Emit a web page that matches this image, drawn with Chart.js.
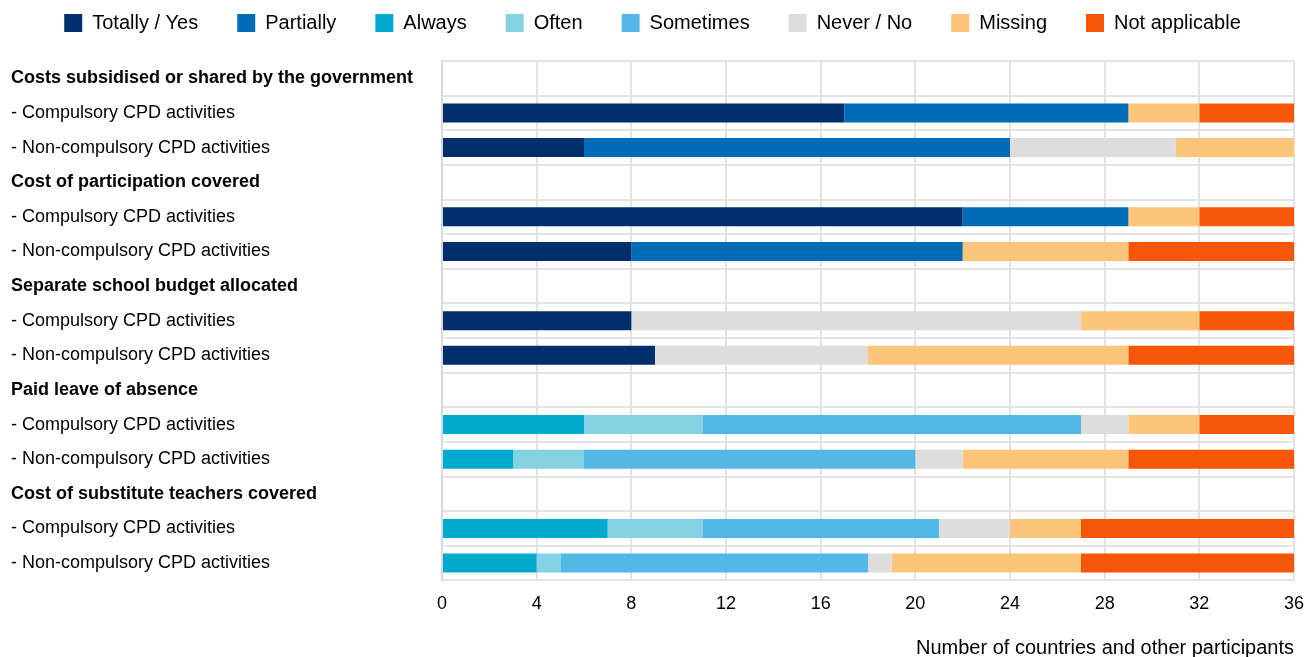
<!DOCTYPE html>
<html>
<head>
<meta charset="utf-8">
<script src="https://cdn.jsdelivr.net/npm/chart.js@4"></script>
<style>
  body { margin: 0; background: #fff; }
  #wrap { width: 1304px; height: 657px; }
</style>
</head>
<body>
<div id="wrap"><canvas id="grafico"></canvas></div>
<script>
// row labels (header rows have no bars)
const rotulos = [
  'Costs subsidised or shared by the government',
  '- Compulsory CPD activities',
  '- Non-compulsory CPD activities',
  'Cost of participation covered',
  '- Compulsory CPD activities',
  '- Non-compulsory CPD activities',
  'Separate school budget allocated',
  '- Compulsory CPD activities',
  '- Non-compulsory CPD activities',
  'Paid leave of absence',
  '- Compulsory CPD activities',
  '- Non-compulsory CPD activities',
  'Cost of substitute teachers covered',
  '- Compulsory CPD activities',
  '- Non-compulsory CPD activities'
];
const cabecalhos = [0, 3, 6, 9, 12];

// number of countries per answer (null on header rows)
const totallyYes = [null, 17, 6, null, 22, 8, null, 8, 9, null, 0, 0, null, 0, 0];
const partially  = [null, 12, 18, null, 7, 14, null, 0, 0, null, 0, 0, null, 0, 0];
const always     = [null, 0, 0, null, 0, 0, null, 0, 0, null, 6, 3, null, 7, 4];
const often      = [null, 0, 0, null, 0, 0, null, 0, 0, null, 5, 3, null, 4, 1];
const sometimes  = [null, 0, 0, null, 0, 0, null, 0, 0, null, 16, 14, null, 10, 13];
const neverNo    = [null, 0, 7, null, 0, 0, null, 19, 9, null, 2, 2, null, 3, 1];
const missing    = [null, 3, 5, null, 3, 7, null, 5, 11, null, 3, 7, null, 3, 8];
const notAppl    = [null, 4, 0, null, 4, 7, null, 4, 7, null, 4, 7, null, 9, 9];

const xTicks = [0, 4, 8, 12, 16, 20, 24, 28, 32, 36];

function serie(nome, dados, cor) {
  return {
    label: nome,
    data: dados,
    backgroundColor: cor,
    borderWidth: 0,
    categoryPercentage: 1,
    barPercentage: 0.55
  };
}

// extra space between the legend and the plot
const espacoLegenda = {
  id: 'espacoLegenda',
  beforeLayout(chart) {
    const leg = chart.legend;
    if (leg && !leg._fitPatched) {
      const fitOriginal = leg.fit;
      leg.fit = function() {
        fitOriginal.call(this);
        this.height += 18;
      };
      leg._fitPatched = true;
    }
  }
};

Chart.defaults.font.family = '"Liberation Sans", Arial, sans-serif';
Chart.defaults.color = '#000';

var ctx = document.getElementById('grafico').getContext('2d');
var grafico = new Chart(ctx, {
  type: 'bar',
  data: {
    labels: rotulos,
    datasets: [
      serie('Totally / Yes', totallyYes, '#002f6c'),
      serie('Partially', partially, '#006bb6'),
      serie('Always', always, '#00aacd'),
      serie('Often', often, '#85d2e3'),
      serie('Sometimes', sometimes, '#53b7e8'),
      serie('Never / No', neverNo, '#dddddd'),
      serie('Missing', missing, '#fdc579'),
      serie('Not applicable', notAppl, '#f55607')
    ]
  },
  plugins: [espacoLegenda],
  options: {
    indexAxis: 'y',
    responsive: true,
    maintainAspectRatio: false,
    animation: false,
    layout: { padding: { left: 11, right: 10, top: -26, bottom: -5 } },
    plugins: {
      tooltip: { enabled: false },
      legend: {
        position: 'top',
        labels: {
          boxWidth: 18,
          boxHeight: 18,
          padding: 39,
          font: { size: 20 }
        }
      }
    },
    scales: {
      x: {
        stacked: true,
        min: 0,
        max: 36,
        afterBuildTicks: function(scale) {
          scale.ticks = xTicks.map(v => ({ value: v }));
        },
        afterFit: function(scale) { scale.paddingRight = 0; },
        grid: { color: '#e3e3e3', lineWidth: 2, drawTicks: false },
        border: { display: false },
        ticks: { font: { size: 18 }, padding: 13, color: '#000' },
        title: {
          display: true,
          text: 'Number of countries and other participants',
          align: 'end',
          font: { size: 20 },
          padding: { top: 8, bottom: 2 }
        }
      },
      y: {
        stacked: true,
        afterFit: function(scale) { scale.width = 431; },
        grid: { color: '#e3e3e3', lineWidth: 2, offset: true, drawTicks: false },
        border: { color: '#d8d8e4', width: 2 },
        ticks: {
          crossAlign: 'far',
          autoSkip: false,
          color: '#000',
          font: function(c) {
            return cabecalhos.includes(c.index)
              ? { size: 18, weight: 'bold' }
              : { size: 18 };
          }
        }
      }
    }
  }
});
</script>
</body>
</html>
